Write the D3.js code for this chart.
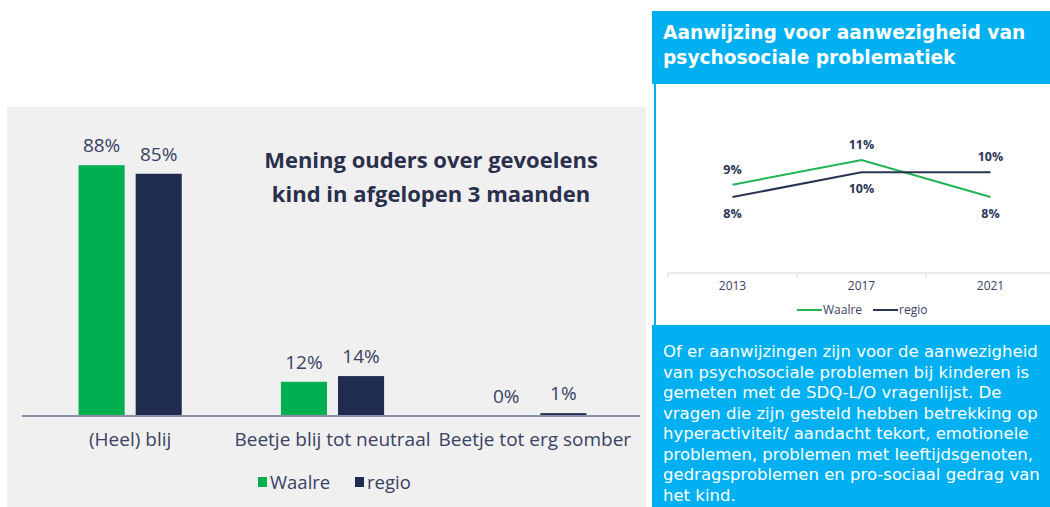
<!DOCTYPE html>
<html>
<head>
<meta charset="utf-8">
<script src="https://cdn.jsdelivr.net/npm/d3@7"></script>
<style>
  body { margin: 0; background: #fff; overflow: hidden; }
  svg { display: block; font-family: "Open Sans", "DejaVu Sans", sans-serif; }
</style>
</head>
<body>
<div id="chart"></div>
<script>
// ---------- data ----------
const barCategories = ["(Heel) blij", "Beetje blij tot neutraal", "Beetje tot erg somber"];
const barSeries = ["Waalre", "regio"];
const waalreBar = [88, 12, 0];
const regioBar = [85, 14, 1];

const years = ["2013", "2017", "2021"];
const waalreLine = [9, 11, 8];
const regioLine = [8, 10, 10];

const barTitle = ["Mening ouders over gevoelens", "kind in afgelopen 3 maanden"];
const lineTitle = ["Aanwijzing voor aanwezigheid van", "psychosociale problematiek"];
const bodyText = [
  "Of er aanwijzingen zijn voor de aanwezigheid",
  "van psychosociale problemen bij kinderen is",
  "gemeten met de SDQ-L/O vragenlijst. De",
  "vragen die zijn gesteld hebben betrekking op",
  "hyperactiviteit/ aandacht tekort, emotionele",
  "problemen, problemen met leeftijdsgenoten,",
  "gedragsproblemen en pro-sociaal gedrag van",
  "het kind."
];

const green = "#00b050";
const navy = "#1f2b4f";
const blue = "#00b0f0";
const textCol = "#3a4163";

const svg = d3.select("#chart").append("svg")
  .attr("width", 1050)
  .attr("height", 507);

// =====================
// LEFT PANEL: BAR CHART
// =====================
svg.append("rect")
  .attr("x", 7).attr("y", 107)
  .attr("width", 639).attr("height", 400)
  .attr("fill", "#f0f0f0");

const x = d3.scaleBand()
  .domain(barCategories)
  .range([29, 636])
  .paddingInner(0.49)
  .paddingOuter(0.245);

const xSub = d3.scaleBand()
  .domain(barSeries)
  .range([0, x.bandwidth()])
  .paddingInner(0.193);

const y = d3.scaleLinear().domain([0, 100]).range([416, 131]);
const color = d3.scaleOrdinal().domain(barSeries).range([green, navy]);

const barRows = barCategories.map((c, i) => ({
  cat: c,
  values: [
    { key: "Waalre", value: waalreBar[i] },
    { key: "regio", value: regioBar[i] }
  ]
}));

const groups = svg.selectAll(".bar-group")
  .data(barRows)
  .join("g")
  .attr("class", "bar-group")
  .attr("transform", d => `translate(${x(d.cat)},0)`);

groups.selectAll("rect")
  .data(d => d.values)
  .join("rect")
  .attr("x", d => xSub(d.key))
  .attr("width", xSub.bandwidth())
  .attr("y", d => y(d.value))
  .attr("height", d => y(0) - y(d.value))
  .attr("fill", d => color(d.key));

groups.selectAll("text.val")
  .data(d => d.values)
  .join("text")
  .attr("class", "val")
  .attr("x", d => xSub(d.key) + xSub.bandwidth() / 2)
  .attr("y", d => y(d.value) - 13)
  .attr("text-anchor", "middle")
  .attr("fill", textCol)
  .style("font-size", "19px")
  .text(d => d.value + "%");

// baseline
svg.append("line")
  .attr("x1", 22).attr("x2", 640)
  .attr("y1", y(0)).attr("y2", y(0))
  .attr("stroke", "#8a90a6")
  .attr("stroke-width", 2);

const xAxis = svg.append("g")
  .attr("transform", `translate(0,${y(0)})`)
  .call(d3.axisBottom(x).tickSize(0).tickPadding(17));
xAxis.select(".domain").remove();
xAxis.selectAll("text")
  .style("font-size", "19px")
  .style("font-family", "'Open Sans', sans-serif")
  .attr("fill", textCol);

// title
svg.append("text")
  .attr("text-anchor", "middle")
  .attr("fill", "#2a2f4c")
  .style("font-size", "22px")
  .style("font-weight", "bold")
  .selectAll("tspan")
  .data(barTitle)
  .join("tspan")
  .attr("x", 431)
  .attr("y", (d, i) => 168 + i * 34)
  .text(d => d);

// legend
const legend = svg.append("g")
  .attr("transform", "translate(258,482)");
const legItems = legend.selectAll("g")
  .data(barSeries)
  .join("g")
  .attr("transform", (d, i) => `translate(${i * 97},0)`);
legItems.append("rect")
  .attr("x", 0).attr("y", -5)
  .attr("width", 9).attr("height", 10)
  .attr("fill", d => color(d));
legItems.append("text")
  .attr("x", 12).attr("y", 6.5)
  .attr("fill", textCol)
  .style("font-size", "18.5px")
  .text(d => d);

// =====================
// RIGHT PANEL: LINE CHART
// =====================
svg.append("rect")
  .attr("x", 652).attr("y", 11)
  .attr("width", 398).attr("height", 73)
  .attr("fill", blue);

svg.append("text")
  .attr("fill", "#fff")
  .style("font-family", "'DejaVu Sans', sans-serif")
  .style("font-size", "18.6px")
  .style("font-weight", "bold")
  .selectAll("tspan")
  .data(lineTitle)
  .join("tspan")
  .attr("x", 663)
  .attr("y", (d, i) => 39 + i * 25)
  .text(d => d);

// border of the white chart box
svg.append("line")
  .attr("x1", 655).attr("x2", 655)
  .attr("y1", 84).attr("y2", 326)
  .attr("stroke", blue).attr("stroke-width", 2);

const xl = d3.scaleBand().domain(years).range([668, 1055]);
const yl = d3.scaleLinear().domain([6, 12]).range([221.7, 147.7]);

svg.append("line")
  .attr("x1", 668).attr("x2", 1050)
  .attr("y1", 273).attr("y2", 273)
  .attr("stroke", "#d4d4d4");

svg.selectAll(".xl-tick")
  .data(years)
  .join("line")
  .attr("class", "xl-tick")
  .attr("x1", d => xl(d)).attr("x2", d => xl(d))
  .attr("y1", 273).attr("y2", 277)
  .attr("stroke", "#d4d4d4");

svg.selectAll(".xl-label")
  .data(years)
  .join("text")
  .attr("class", "xl-label")
  .attr("x", d => xl(d) + xl.bandwidth() / 2)
  .attr("y", 290)
  .attr("text-anchor", "middle")
  .attr("fill", textCol)
  .style("font-size", "12px")
  .text(d => d);

const lineSeries = [
  { name: "Waalre", color: "#22b455", values: waalreLine, other: regioLine },
  { name: "regio", color: "#2a3452", values: regioLine, other: waalreLine }
];

const line = d3.line()
  .x((d, i) => xl(years[i]) + xl.bandwidth() / 2)
  .y(d => yl(d));

svg.selectAll(".series")
  .data(lineSeries)
  .join("path")
  .attr("class", "series")
  .attr("d", d => line(d.values))
  .attr("fill", "none")
  .attr("stroke", d => d.color)
  .attr("stroke-width", 2);

lineSeries.forEach(s => {
  svg.selectAll(null)
    .data(s.values)
    .join("text")
    .attr("x", (d, i) => xl(years[i]) + xl.bandwidth() / 2)
    .attr("y", (d, i) => d >= s.other[i] ? yl(d) - 11 : yl(d) + 21)
    .attr("text-anchor", "middle")
    .attr("fill", "#2b3658")
    .style("font-size", "12.5px")
    .style("font-weight", "bold")
    .text(d => d + "%");
});

const lLegend = svg.selectAll(".l-leg")
  .data(lineSeries)
  .join("g")
  .attr("class", "l-leg")
  .attr("transform", (d, i) => `translate(${797 + i * 76},310)`);
lLegend.append("line")
  .attr("x1", 0).attr("x2", 25)
  .attr("stroke", d => d.color)
  .attr("stroke-width", 2);
lLegend.append("text")
  .attr("x", 26).attr("y", 4)
  .attr("fill", textCol)
  .style("font-size", "12px")
  .text(d => d.name);

// =====================
// RIGHT PANEL: TEXT BOX
// =====================
svg.append("rect")
  .attr("x", 652).attr("y", 325)
  .attr("width", 398).attr("height", 182)
  .attr("fill", blue);

svg.append("text")
  .attr("fill", "#fff")
  .style("font-family", "'DejaVu Sans', sans-serif")
  .style("font-size", "16.5px")
  .selectAll("tspan")
  .data(bodyText)
  .join("tspan")
  .attr("x", 663)
  .attr("y", (d, i) => 357 + i * 20.5)
  .text(d => d);
</script>
</body>
</html>
